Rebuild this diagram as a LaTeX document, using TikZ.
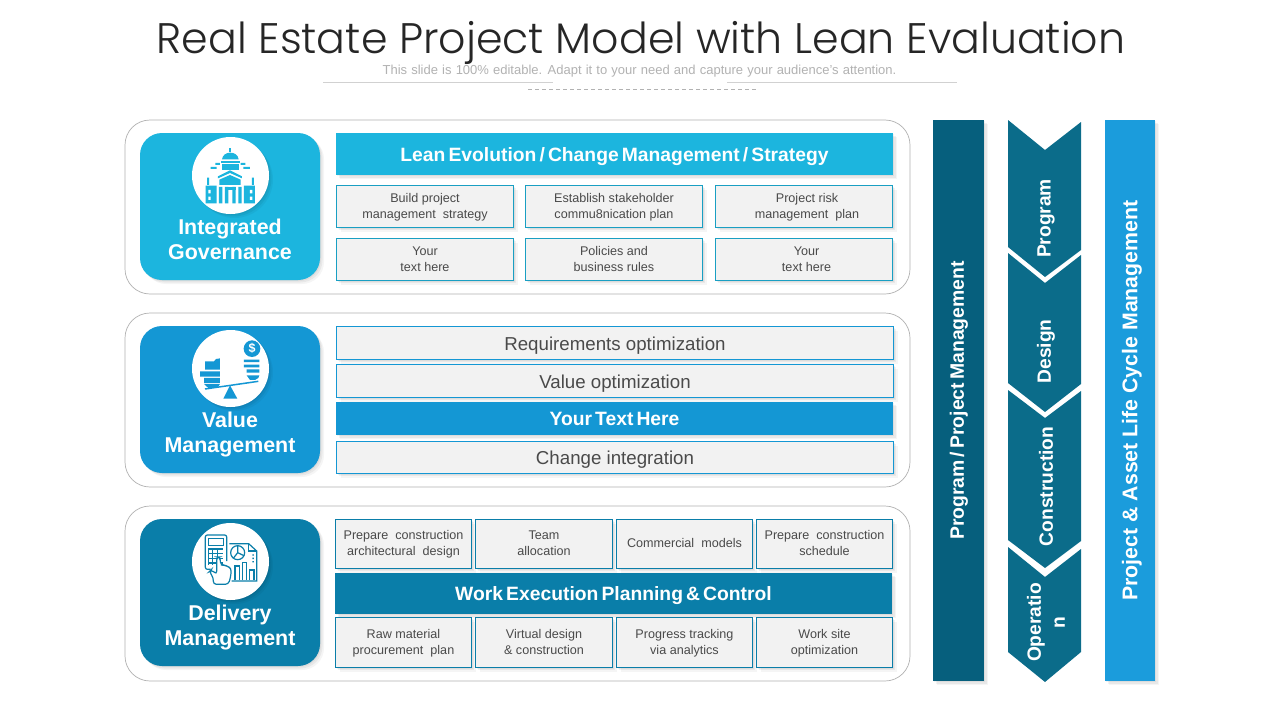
\documentclass[tikz,border=0pt]{standalone}
\usepackage{fontspec}
\setmainfont{Liberation Sans}
\newfontfamily\titlefont{Poppins}[UprightFont=* Light]
\usetikzlibrary{shadows,calc}
\definecolor{govc}{HTML}{1CB5DE}
\definecolor{valc}{HTML}{1497D4}
\definecolor{delc}{HTML}{0A7EA9}
\definecolor{barc}{HTML}{065F7D}
\definecolor{chevc}{HTML}{0B6C8A}
\definecolor{lifec}{HTML}{1B9CDC}
\definecolor{boxf}{HTML}{F2F2F2}
\definecolor{txtc}{HTML}{4A4A4A}
\tikzset{
  softshadow/.style={
    drop shadow={shadow xshift=1pt,shadow yshift=-1pt,fill=black,opacity=.05},
    drop shadow={shadow xshift=2.5pt,shadow yshift=-2.5pt,fill=black,opacity=.05},
    drop shadow={shadow xshift=4pt,shadow yshift=-4pt,fill=black,opacity=.04}},
  panel/.style={draw=black!30,line width=.7pt,fill=white,rounded corners=25pt},
  block/.style={softshadow,rounded corners=22pt,text=white},
  disc/.style={circle,fill=white,minimum size=77pt,inner sep=0pt,softshadow},
  band/.style={softshadow,text=white,font=\fontsize{19.3}{23}\selectfont\bfseries},
  smallbox/.style={softshadow,fill=boxf,line width=.8pt,text=txtc,align=center,font=\fontsize{12.6}{16}\selectfont},
  rowbox/.style={softshadow,fill=boxf,draw=valc,line width=.8pt,text=txtc,font=\fontsize{18.7}{22}\selectfont},
  blocktitle/.style={text=white,align=center,font=\fontsize{21.4}{25}\selectfont\bfseries},
  vtext/.style={text=white,rotate=90,align=center,font=\fontsize{19.2}{24}\selectfont\bfseries},
  every node/.append style={inner sep=0pt,outer sep=0pt}
}
\newcommand{\rectnode}[7]{%
  \pgfmathsetmacro\cxx{(#3+#5)/2}\pgfmathsetmacro\cyy{(#4+#6)/2}%
  \pgfmathsetmacro\www{#5-#3}\pgfmathsetmacro\hhh{#6-#4}%
  \node[#2,minimum width=\www pt,minimum height=\hhh pt] (#1) at (\cxx,\cyy) {#7};}
\newcommand{\dn}[2]{\raisebox{\dimexpr 2.5pt-#1\relax}[0pt][0pt]{\begin{tabular}{@{}c@{}}#2\end{tabular}}}
\begin{document}
\begin{tikzpicture}[x=1pt,y=-1pt]
\useasboundingbox (0,0) rectangle (1280,720);
\fill[white] (0,0) rectangle (1280,720);
% header
\node[text=black!85,font=\titlefont\fontsize{42.7}{50}\selectfont,anchor=base] (title) at (641,53) {Real Estate Project Model with Lean Evaluation};
\node[text=black!30,font=\fontsize{13}{15}\selectfont] (sub) at (639.5,71) {\spaceskip=.32em This slide is 100\% editable. Adapt it to your need and capture your audience's attention.};
\coordinate (la) at (323,82); \coordinate (lb) at (553,82); \coordinate (lc) at (727,82); \coordinate (ld) at (957,82);
\coordinate (da) at (528,89.5); \coordinate (db) at (757,89.5);
\draw[black!18,line width=.8pt] (la)--(lb) (lc)--(ld);
\draw[black!30,line width=.6pt,dash pattern=on 3.5pt off 3.5pt] (da)--(db);
% panels
\rectnode{p1}{panel}{125}{120}{910}{294}{}
\rectnode{p2}{panel}{125}{313}{910}{487}{}
\rectnode{p3}{panel}{125}{506}{910}{681}{}
% blocks
\rectnode{b1}{block,fill=govc}{140}{133}{320}{280}{}
\rectnode{b2}{block,fill=valc}{140}{326}{320}{473}{}
\rectnode{b3}{block,fill=delc}{140}{519}{320}{666}{}
\node[disc] (c1) at (230.5,175.5) {};
\node[disc] (c2) at (230.5,368.5) {};
\node[disc] (c3) at (230.5,561.5) {};
\node[blocktitle] (t1) at (230,239.5) {Integrated\\Governance};
\node[blocktitle] (t2) at (230,434.5) {Value\\Management};
\node[blocktitle] (t3) at (230,627.5) {Delivery\\Management};
% governance icon
\begin{scope}[xshift=190pt,yshift=-135pt,x=.3333pt,y=-.3333pt]
\fill[govc] (118,38) rectangle (123,50);
\fill[govc] (96,73) .. controls (98,60) and (108,53) .. (121,53) .. controls (134,53) and (144,60) .. (146,73) -- cycle;
\fill[govc] (92,77) rectangle (150,83);
\fill[govc] (96,88) rectangle (146,106);
\fill[govc] (62,96) rectangle (80,102) (160,96) rectangle (180,102) (76,84) rectangle (90,90) (152,84) rectangle (166,90);
\fill[govc] (84,124) -- (120,106) -- (156,124) -- (156,130) -- (120,114) -- (84,130) -- cycle;
\fill[govc] (88,134) -- (120,120) -- (152,134) -- (152,150) -- (88,150) -- cycle;
\fill[govc] (51,128) rectangle (57,150) (186,128) rectangle (192,150);
\fill[govc] (47,152) rectangle (80,205) (162,152) rectangle (195,205);
\fill[white] (55,165) rectangle (62,175) (55,185) rectangle (62,195) (180,165) rectangle (187,175) (180,185) rectangle (187,195);
\fill[govc] (87,156) rectangle (97,205) (105,156) rectangle (115,205) (127,156) rectangle (137,205) (145,156) rectangle (155,205);
\fill[govc] (105,156) rectangle (137,166);
\end{scope}
% value icon
\begin{scope}[xshift=190pt,yshift=-328pt,x=.3333pt,y=-.3333pt]
\fill[valc] (186,62) circle[radius=25];
\node[text=white,font=\fontsize{12.5}{14}\selectfont\bfseries] (dollar) at (186,62) {\$};
\fill[valc] (162,95) rectangle (208,102) (162,110) rectangle (208,118) (170,124) rectangle (208,134);
\fill[valc] (170,142) -- (208,142) -- (205,150) -- (195,156) -- (180,156) -- cycle;
\fill[valc] (45,100) -- (72,100) -- (78,93) -- (90,91) -- (90,125) -- (45,125) -- cycle;
\fill[valc] (30,130) rectangle (90,146) (42,150) rectangle (90,165);
\fill[valc] (42,168) -- (90,168) -- (82,180) -- (55,180) -- cycle;
\draw[valc,line width=1.5pt] (45,183) -- (205,160);
\fill[valc] (100,212) -- (120,172) -- (142,212) -- cycle;
\end{scope}
% delivery icon
\begin{scope}[xshift=190pt,yshift=-521pt,x=.3333pt,y=-.3333pt]
\draw[delc,line width=1.2pt,rounded corners=2pt] (62,145) -- (46,145) -- (46,42) -- (110,42) -- (110,120);
\draw[delc,line width=1.1pt] (55,52) rectangle (100,74);
\foreach \yy in {84,98,112,126} \draw[delc,line width=1.1pt] (55,\yy) -- (100,\yy);
\foreach \xx in {55,68,82} \draw[delc,line width=1.1pt] (\xx,84) -- (\xx,132);
\draw[delc,line width=1.2pt] (118,68) -- (176,68) -- (200,90) -- (200,180) -- (125,180);
\draw[delc,line width=1.1pt] (176,68) -- (176,90) -- (200,90);
\draw[delc,line width=1.2pt] (143,95) circle[radius=21];
\draw[delc,line width=1.2pt] (143,74) -- (143,95) -- (162,104) (143,95) -- (130,112);
\fill[delc] (187,100) rectangle (192,104) (187,110) rectangle (192,114) (187,120) rectangle (192,124);
\draw[delc,line width=1.2pt] (135,178) -- (135,135) -- (148,135) -- (148,178) (158,178) -- (158,125) -- (170,125) -- (170,178) (178,178) -- (178,147) -- (192,147) -- (192,178);
\draw[delc,line width=1.2pt,fill=white,rounded corners=3pt] (70,190) -- (70,170) -- (58,152) -- (64,146) -- (80,160) -- (80,108) -- (90,108) -- (92,132) -- (102,132) -- (112,136) -- (124,142) -- (122,168) -- (115,190) -- cycle;
\end{scope}
% governance right
\rectnode{g0}{band,fill=govc}{336}{133}{893}{175}{\dn{11pt}{\spaceskip=.16em Lean Evolution / Change Management / Strategy}}
\tikzset{sg/.style={smallbox,draw=govc!88!black}}
\rectnode{g1}{sg}{336.5}{185.5}{513.5}{227.5}{\dn{6pt}{Build project\\management\ \ strategy}}
\rectnode{g2}{sg}{525.5}{185.5}{702.5}{227.5}{\dn{6pt}{Establish stakeholder\\commu8nication plan}}
\rectnode{g3}{sg}{715.5}{185.5}{892.5}{227.5}{\dn{6pt}{\hspace*{6pt}Project risk\\\hspace*{6pt}management\ \ plan}}
\rectnode{g4}{sg}{336.5}{238.5}{513.5}{280.5}{\dn{6pt}{Your\\text here}}
\rectnode{g5}{sg}{525.5}{238.5}{702.5}{280.5}{\dn{6pt}{Policies and\\business rules}}
\rectnode{g6}{sg}{715.5}{238.5}{892.5}{280.5}{\dn{6pt}{\hspace*{5pt}Your\\\hspace*{5pt}text here}}
% value right
\rectnode{v1}{rowbox}{336.5}{326.5}{893.5}{359.5}{\dn{10pt}{Requirements optimization}}
\rectnode{v2}{rowbox}{336.5}{364.5}{893.5}{397.5}{\dn{10pt}{Value optimization}}
\rectnode{v3}{band,fill=valc}{336}{402}{893}{435}{\dn{10pt}{\spaceskip=.16em Your Text Here}}
\rectnode{v4}{rowbox}{336.5}{441.5}{893.5}{473.5}{\dn{9.5pt}{Change integration}}
% delivery right
\tikzset{sd/.style={smallbox,draw=delc}}
\rectnode{d1}{sd}{335.5}{519.5}{471.5}{568.5}{\dn{6pt}{Prepare\ \ construction\\architectural\ \ design}}
\rectnode{d2}{sd}{475.5}{519.5}{612.5}{568.5}{\dn{6pt}{Team\\allocation}}
\rectnode{d3}{sd}{616.5}{519.5}{752.5}{568.5}{\dn{6pt}{Commercial\ \ models}}
\rectnode{d4}{sd}{756.5}{519.5}{892.5}{568.5}{\dn{6pt}{Prepare\ \ construction\\schedule}}
\rectnode{d0}{band,fill=delc}{335}{573}{892}{614}{\dn{10pt}{\spaceskip=.16em Work Execution Planning \& Control}}
\rectnode{d5}{sd}{335.5}{617.5}{471.5}{667.5}{\dn{6.5pt}{Raw material\\procurement\ \ plan}}
\rectnode{d6}{sd}{475.5}{617.5}{612.5}{667.5}{\dn{6.5pt}{Virtual design\\\& construction}}
\rectnode{d7}{sd}{616.5}{617.5}{752.5}{667.5}{\dn{6.5pt}{Progress tracking\\via analytics}}
\rectnode{d8}{sd}{756.5}{617.5}{892.5}{667.5}{\dn{6.5pt}{Work site\\optimization}}
% right columns
\rectnode{bar1}{softshadow,fill=barc}{933}{120}{984}{681}{}
\rectnode{bar3}{softshadow,fill=lifec}{1105}{120}{1155}{681}{}
\fill[chevc] (1008,120) -- (1045,150) -- (1081,122) -- (1081,250) -- (1045,277) -- (1008,247) -- cycle;
\fill[chevc] (1008,253) -- (1045,283) -- (1081,255) -- (1081,384) -- (1045,412) -- (1008,383) -- cycle;
\fill[chevc] (1008,390) -- (1045,418) -- (1081,391) -- (1081,541) -- (1045,568) -- (1008,540) -- cycle;
\fill[chevc] (1008,547) -- (1045,577) -- (1081,549) -- (1081,652) -- (1045,682) -- (1008,652) -- cycle;
\node[vtext] (bt1) at (959,400.5) {\fontsize{19.4}{24}\selectfont\spaceskip=.16em Program / Project Management};
\node[vtext] (bt3) at (1132,400.5) {\fontsize{21.3}{24}\selectfont Project \& Asset Life Cycle Management};
\node[vtext] (ch1) at (1046,218.5) {Program};
\node[vtext] (ch2) at (1046,351.5) {Design};
\node[vtext] (ch3) at (1046,486.5) {Construction};
\node[vtext] (ch4) at (1046,622.5) {Operatio\\n};
\end{tikzpicture}
\end{document}
